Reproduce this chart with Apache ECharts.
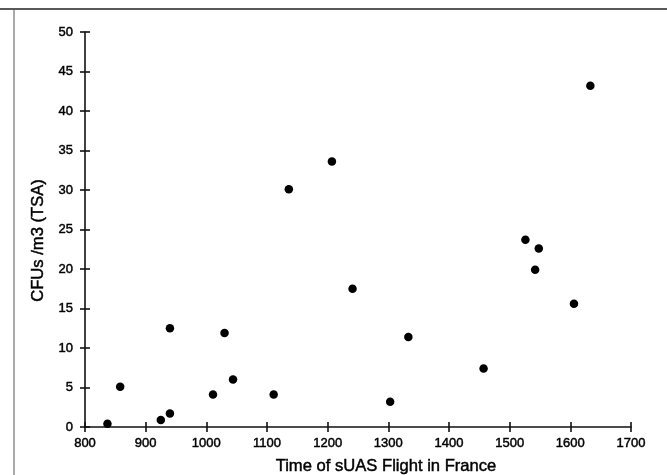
<!DOCTYPE html>
<html>
<head>
<meta charset="utf-8">
<script src="https://cdn.jsdelivr.net/npm/echarts@6/dist/echarts.min.js"></script>
<style>
html,body{margin:0;padding:0;background:#fff;}
#chart{width:667px;height:475px;}
</style>
</head>
<body>
<div id="chart"></div>
<script>
const flightTime = [837, 858, 925, 940, 940, 1011, 1030, 1044, 1111, 1136, 1207, 1241, 1303, 1333, 1457, 1526, 1542, 1548, 1606, 1633];
const cfuValues  = [0.4, 5.1, 0.9, 1.7, 12.5, 4.1, 11.9, 6.0, 4.1, 30.1, 33.6, 17.5, 3.2, 11.4, 7.4, 23.7, 19.9, 22.6, 15.6, 43.2];
const xTitle = 'Time of sUAS Flight in France';
const yTitle = 'CFUs /m3 (TSA)';

const points = flightTime.map((x, i) => [x, cfuValues[i]]);
const font = 'Liberation Sans, Arial, Helvetica, sans-serif';
const heavy = {textBorderColor: '#000', textBorderWidth: 0.45};

const chart = echarts.init(document.getElementById('chart'), null, {renderer: 'canvas'});
const lineStyle = {color: '#111', width: 1.6};
chart.setOption({
  backgroundColor: '#fff',
  animation: false,
  grid: {left: 85, right: 36, top: 32, bottom: 48, containLabel: false, outerBoundsMode: 'none'},
  xAxis: [{
    type: 'value', min: 800, max: 1700, interval: 100,
    name: xTitle, nameLocation: 'middle', nameGap: 31,
    nameTextStyle: Object.assign({fontFamily: font, fontSize: 16.6, color: '#000', padding: [0, 0, 0, 56]}, heavy),
    axisLine: {show: true, onZero: false, lineStyle: lineStyle},
    axisTick: {show: true, length: 5, lineStyle: lineStyle},
    axisLabel: Object.assign({fontFamily: font, fontSize: 13, color: '#000', margin: 10, formatter: v => String(v)}, heavy),
    splitLine: {show: false}
  }, {
    type: 'value', min: 800, max: 1700, interval: 100, position: 'bottom',
    axisLine: {show: false},
    axisTick: {show: true, inside: true, length: 5, lineStyle: lineStyle},
    axisLabel: {show: false}, splitLine: {show: false}
  }],
  yAxis: [{
    type: 'value', min: 0, max: 50, interval: 5,
    name: yTitle, nameLocation: 'middle', nameGap: 31, nameRotate: 90,
    nameTextStyle: Object.assign({fontFamily: font, fontSize: 16.6, color: '#000', padding: [0, 22, 0, 0]}, heavy),
    axisLine: {show: true, onZero: false, lineStyle: lineStyle},
    axisTick: {show: true, length: 5, lineStyle: lineStyle},
    axisLabel: Object.assign({fontFamily: font, fontSize: 13, color: '#000', margin: 12, formatter: v => String(v)}, heavy),
    splitLine: {show: false}
  }, {
    type: 'value', min: 0, max: 50, interval: 5, position: 'left',
    axisLine: {show: false},
    axisTick: {show: true, inside: true, length: 5, lineStyle: lineStyle},
    axisLabel: {show: false}, splitLine: {show: false}
  }],
  series: [{
    type: 'scatter', xAxisIndex: 0, yAxisIndex: 0,
    data: points, symbol: 'circle', symbolSize: 8.5,
    itemStyle: {color: '#000', opacity: 1}
  }],
  graphic: [
    {type: 'line', shape: {x1: 0, y1: 9, x2: 667, y2: 9}, style: {stroke: '#222', lineWidth: 1.4}},
    {type: 'line', shape: {x1: 14, y1: 9, x2: 14, y2: 475}, style: {stroke: '#555', lineWidth: 1}}
  ]
});
</script>
</body>
</html>
